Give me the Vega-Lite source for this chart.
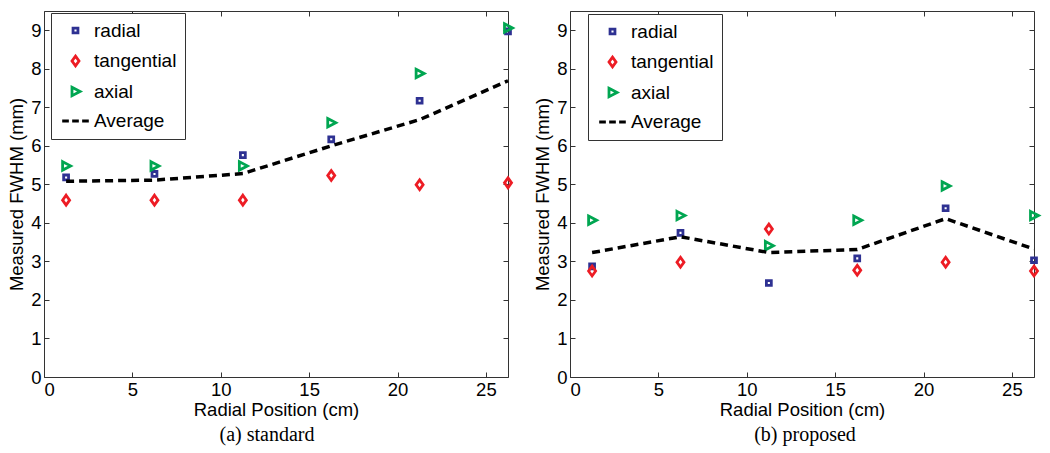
{
  "$schema": "https://vega.github.io/schema/vega-lite/v6.json",
  "background": "white",
  "padding": {"left": 7, "top": 10, "right": 5, "bottom": 5},
  "datasets": {
    "fwhm": [
      {"panel": "standard", "series": "radial", "pos": 1.25, "fwhm": 5.18},
      {"panel": "standard", "series": "radial", "pos": 6.25, "fwhm": 5.27},
      {"panel": "standard", "series": "radial", "pos": 11.25, "fwhm": 5.76},
      {"panel": "standard", "series": "radial", "pos": 16.25, "fwhm": 6.17},
      {"panel": "standard", "series": "radial", "pos": 21.25, "fwhm": 7.17},
      {"panel": "standard", "series": "radial", "pos": 26.25, "fwhm": 8.97},
      {"panel": "standard", "series": "tangential", "pos": 1.25, "fwhm": 4.59},
      {"panel": "standard", "series": "tangential", "pos": 6.25, "fwhm": 4.59},
      {"panel": "standard", "series": "tangential", "pos": 11.25, "fwhm": 4.59},
      {"panel": "standard", "series": "tangential", "pos": 16.25, "fwhm": 5.23},
      {"panel": "standard", "series": "tangential", "pos": 21.25, "fwhm": 4.99},
      {"panel": "standard", "series": "tangential", "pos": 26.25, "fwhm": 5.04},
      {"panel": "standard", "series": "axial", "pos": 1.25, "fwhm": 5.48},
      {"panel": "standard", "series": "axial", "pos": 6.25, "fwhm": 5.48},
      {"panel": "standard", "series": "axial", "pos": 11.25, "fwhm": 5.48},
      {"panel": "standard", "series": "axial", "pos": 16.25, "fwhm": 6.6},
      {"panel": "standard", "series": "axial", "pos": 21.25, "fwhm": 7.88},
      {"panel": "standard", "series": "axial", "pos": 26.25, "fwhm": 9.06},
      {"panel": "standard", "series": "Average", "pos": 1.25, "fwhm": 5.08},
      {"panel": "standard", "series": "Average", "pos": 6.25, "fwhm": 5.11},
      {"panel": "standard", "series": "Average", "pos": 11.25, "fwhm": 5.28},
      {"panel": "standard", "series": "Average", "pos": 16.25, "fwhm": 6.0},
      {"panel": "standard", "series": "Average", "pos": 21.25, "fwhm": 6.68},
      {"panel": "standard", "series": "Average", "pos": 26.25, "fwhm": 7.69},
      {"panel": "proposed", "series": "radial", "pos": 1.25, "fwhm": 2.87},
      {"panel": "proposed", "series": "radial", "pos": 6.25, "fwhm": 3.74},
      {"panel": "proposed", "series": "radial", "pos": 11.25, "fwhm": 2.44},
      {"panel": "proposed", "series": "radial", "pos": 16.25, "fwhm": 3.08},
      {"panel": "proposed", "series": "radial", "pos": 21.25, "fwhm": 4.38},
      {"panel": "proposed", "series": "radial", "pos": 26.25, "fwhm": 3.03},
      {"panel": "proposed", "series": "tangential", "pos": 1.25, "fwhm": 2.75},
      {"panel": "proposed", "series": "tangential", "pos": 6.25, "fwhm": 2.98},
      {"panel": "proposed", "series": "tangential", "pos": 11.25, "fwhm": 3.84},
      {"panel": "proposed", "series": "tangential", "pos": 16.25, "fwhm": 2.77},
      {"panel": "proposed", "series": "tangential", "pos": 21.25, "fwhm": 2.98},
      {"panel": "proposed", "series": "tangential", "pos": 26.25, "fwhm": 2.75},
      {"panel": "proposed", "series": "axial", "pos": 1.25, "fwhm": 4.07},
      {"panel": "proposed", "series": "axial", "pos": 6.25, "fwhm": 4.19},
      {"panel": "proposed", "series": "axial", "pos": 11.25, "fwhm": 3.41},
      {"panel": "proposed", "series": "axial", "pos": 16.25, "fwhm": 4.07},
      {"panel": "proposed", "series": "axial", "pos": 21.25, "fwhm": 4.96},
      {"panel": "proposed", "series": "axial", "pos": 26.25, "fwhm": 4.19},
      {"panel": "proposed", "series": "Average", "pos": 1.25, "fwhm": 3.23},
      {"panel": "proposed", "series": "Average", "pos": 6.25, "fwhm": 3.64},
      {"panel": "proposed", "series": "Average", "pos": 11.25, "fwhm": 3.23},
      {"panel": "proposed", "series": "Average", "pos": 16.25, "fwhm": 3.31},
      {"panel": "proposed", "series": "Average", "pos": 21.25, "fwhm": 4.11},
      {"panel": "proposed", "series": "Average", "pos": 26.25, "fwhm": 3.32}
    ]
  },
  "config": {
    "view": {"stroke": "#333333", "strokeWidth": 1},
    "concat": {"spacing": 14},
    "axis": {
      "labelFont": "Liberation Sans", "labelFontSize": 18.5, "labelColor": "black",
      "titleFont": "Liberation Sans", "titleFontSize": 18.5, "titleFontWeight": "normal", "titleColor": "black",
      "grid": false, "domain": false, "tickColor": "#333333", "tickSize": -5, "labelPadding": 8
    },
    "legend": {
      "labelFont": "Liberation Sans", "labelFontSize": 19, "labelColor": "black",
      "strokeColor": "#333333", "fillColor": "white", "padding": 8, "rowPadding": 9.5,
      "symbolSize": 49, "symbolStrokeWidth": 2.8, "symbolOffset": 7, "labelOffset": 9,
      "labelExpr": "datum.label + '  '"
    },
    "title": {"font": "Liberation Serif", "fontSize": 20, "fontWeight": "normal", "color": "black", "anchor": "middle", "frame": "group"}
  },
  "resolve": {
    "scale": {"stroke": "independent", "shape": "independent"},
    "legend": {"stroke": "independent", "shape": "independent"}
  },
  "hconcat": [
    {
      "width": 464, "height": 366,
      "data": {"name": "fwhm"},
      "title": {"text": "(a) standard", "orient": "bottom", "dx": -9, "offset": 6},
      "layer": [
        {
          "transform": [{"filter": "datum.panel == 'standard' && datum.series != 'Average'"}],
          "mark": {"type": "point", "filled": false, "strokeWidth": 2.8, "size": 49, "opacity": 1},
          "encoding": {
            "x": {"field": "pos", "type": "quantitative", "scale": {"domain": [0, 26.25], "nice": false, "zero": false},
                  "axis": {"title": "Radial Position (cm)", "values": [0, 5, 10, 15, 20, 25], "titlePadding": 2}},
            "y": {"field": "fwhm", "type": "quantitative", "scale": {"domain": [0, 9.5], "nice": false},
                  "axis": {"title": "Measured FWHM (mm)", "values": [0, 1, 2, 3, 4, 5, 6, 7, 8, 9], "titlePadding": 4}},
            "stroke": {"field": "series", "type": "nominal",
                       "scale": {"domain": ["radial", "tangential", "axial", "Average"], "range": ["#2e3192", "#ed1c24", "#00a651", "black"]},
                       "legend": {"title": null, "orient": "none", "legendX": 7, "legendY": 2}},
            "shape": {"field": "series", "type": "nominal",
                      "scale": {"domain": ["radial", "tangential", "axial", "Average"],
                                "range": ["M-0.7,-0.7H0.7V0.7H-0.7Z", "M0,-1.4L1,0L0,1.4L-1,0Z", "M-1,-1.2L1.3,0L-1,1.2Z", "M-3.8,0H-1.9M-0.95,0H0.95M1.9,0H3.8"]},
                      "legend": {"title": null, "orient": "none", "legendX": 7, "legendY": 2}}
          }
        },
        {
          "transform": [{"filter": "datum.panel == 'standard' && datum.series == 'Average'"}],
          "mark": {"type": "line", "stroke": "black", "strokeWidth": 3.5, "strokeDash": [8, 5]},
          "encoding": {
            "x": {"field": "pos", "type": "quantitative", "scale": {"domain": [0, 26.25], "nice": false, "zero": false},
                  "axis": {"orient": "top", "title": null, "labels": false, "values": [0, 5, 10, 15, 20, 25]}},
            "y": {"field": "fwhm", "type": "quantitative", "scale": {"domain": [0, 9.5], "nice": false},
                  "axis": {"orient": "right", "title": null, "labels": false, "values": [0, 1, 2, 3, 4, 5, 6, 7, 8, 9]}}
          }
        }
      ],
      "resolve": {"axis": {"x": "independent", "y": "independent"}}
    },
    {
      "width": 464, "height": 366,
      "data": {"name": "fwhm"},
      "title": {"text": "(b) proposed", "orient": "bottom", "dx": 3, "offset": 6},
      "layer": [
        {
          "transform": [{"filter": "datum.panel == 'proposed' && datum.series != 'Average'"}],
          "mark": {"type": "point", "filled": false, "strokeWidth": 2.8, "size": 49, "opacity": 1},
          "encoding": {
            "x": {"field": "pos", "type": "quantitative", "scale": {"domain": [0, 26.25], "nice": false, "zero": false},
                  "axis": {"title": "Radial Position (cm)", "values": [0, 5, 10, 15, 20, 25], "titlePadding": 2}},
            "y": {"field": "fwhm", "type": "quantitative", "scale": {"domain": [0, 9.5], "nice": false},
                  "axis": {"title": "Measured FWHM (mm)", "values": [0, 1, 2, 3, 4, 5, 6, 7, 8, 9], "titlePadding": 4}},
            "stroke": {"field": "series", "type": "nominal",
                       "scale": {"domain": ["radial", "tangential", "axial", "Average"], "range": ["#2e3192", "#ed1c24", "#00a651", "black"]},
                       "legend": {"title": null, "orient": "none", "legendX": 18, "legendY": 3}},
            "shape": {"field": "series", "type": "nominal",
                      "scale": {"domain": ["radial", "tangential", "axial", "Average"],
                                "range": ["M-0.7,-0.7H0.7V0.7H-0.7Z", "M0,-1.4L1,0L0,1.4L-1,0Z", "M-1,-1.2L1.3,0L-1,1.2Z", "M-3.8,0H-1.9M-0.95,0H0.95M1.9,0H3.8"]},
                      "legend": {"title": null, "orient": "none", "legendX": 18, "legendY": 3}}
          }
        },
        {
          "transform": [{"filter": "datum.panel == 'proposed' && datum.series == 'Average'"}],
          "mark": {"type": "line", "stroke": "black", "strokeWidth": 3.5, "strokeDash": [8, 5]},
          "encoding": {
            "x": {"field": "pos", "type": "quantitative", "scale": {"domain": [0, 26.25], "nice": false, "zero": false},
                  "axis": {"orient": "top", "title": null, "labels": false, "values": [0, 5, 10, 15, 20, 25]}},
            "y": {"field": "fwhm", "type": "quantitative", "scale": {"domain": [0, 9.5], "nice": false},
                  "axis": {"orient": "right", "title": null, "labels": false, "values": [0, 1, 2, 3, 4, 5, 6, 7, 8, 9]}}
          }
        }
      ],
      "resolve": {"axis": {"x": "independent", "y": "independent"}}
    }
  ]
}
